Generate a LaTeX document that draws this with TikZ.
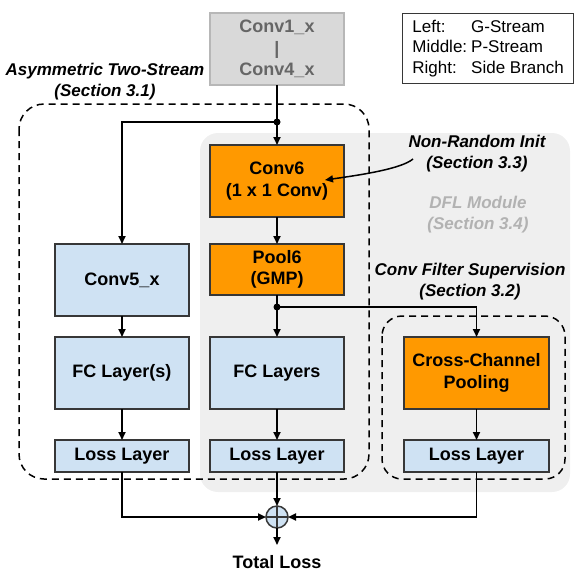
\documentclass[tikz,border=0pt]{standalone}
\usepackage{fontspec}
\setmainfont{Liberation Sans}
\usepackage{xcolor}
\usepackage{tikz}
\usetikzlibrary{arrows.meta, positioning, calc, backgrounds}
\definecolor{cOrange}{RGB}{255,153,0}
\definecolor{cBlue}{RGB}{207,226,243}
\definecolor{cEdge}{RGB}{55,55,55}
\definecolor{cStem}{RGB}{217,217,217}
\definecolor{cStemEdge}{RGB}{183,183,183}
\definecolor{cStemTxt}{RGB}{102,102,102}
\definecolor{cPanel}{RGB}{239,239,239}
\definecolor{cFaint}{RGB}{178,178,178}
\newcommand{\blkfont}{\fontsize{18}{21.6}\selectfont\bfseries}
\newcommand{\notefont}{\fontsize{17}{21}\selectfont\bfseries\itshape}
\newcommand{\keyfont}{\fontsize{17}{20.5}\selectfont}
\tikzset{
	blk/.style     ={rectangle, draw=cEdge, line width=1.2pt, outer sep=0pt, fill=cBlue, minimum width=134pt, minimum height=72pt, align=center, font=\blkfont},
	orgblk/.style  ={blk, fill=cOrange},
	stemblk/.style ={blk, fill=cStem, draw=cStemEdge, line width=1.5pt, text=cStemTxt},
	lossblk/.style ={blk, minimum height=32pt},
	note/.style    ={align=center, font=\notefont},
	key/.style     ={rectangle, draw=cEdge, line width=1.2pt, anchor=north west, minimum width=171pt, minimum height=70pt, inner xsep=3pt, font=\keyfont},
	sumj/.style    ={circle, draw=cEdge, line width=1.5pt, outer sep=0pt, fill=cBlue, minimum size=22pt, inner sep=0pt},
	sig/.style     ={-{Triangle[length=8pt, width=7pt]}, line width=1.8pt},
	region/.style  ={dash pattern=on 7pt off 5pt, line width=1.5pt, rounded corners=25pt},
}
\begin{document}
\begin{tikzpicture}[x=1pt, y=-1pt, node distance=20pt]
	\useasboundingbox (0,0) rectangle (580,574);
	% middle stream
	\node[stemblk] (c14) at (277,49) {Conv1\_x\\|\\Conv4\_x};
	\node[orgblk, below=60pt of c14] (c6) {Conv6\\(1 x 1 Conv)};
	\node[orgblk, below=27pt of c6, minimum height=51pt] (p6) {Pool6\\(GMP)};
	\node[blk, below=42pt of p6] (fcm) {FC Layers};
	\node[lossblk, below=31pt of fcm] (lsm) {Loss Layer};
	% left stream
	\node[blk, left=21pt of fcm] (fcl) {FC Layer(s)};
	\node[blk, above=21pt of fcl] (c5) {Conv5\_x};
	\node[lossblk, left=21pt of lsm] (lsl) {Loss Layer};
	% side branch
	\node[orgblk, right=60pt of fcm, minimum width=145pt] (ccp) {Cross-Channel\\Pooling};
	\node[lossblk, below=31pt of ccp, minimum width=145pt] (lsr) {Loss Layer};
	\node[sumj, below=34pt of lsm] (sum) {};
	\node[below=27pt of sum, inner sep=0pt, font=\blkfont] (tot) {Total Loss};
	% labels
	\node[note] (asym) at (105,81.5) {Asymmetric Two-Stream\\(Section 3.1)};
	\node[note] (nri) at (477,154) {Non-Random Init\\(Section 3.3)};
	\node[note, text=cFaint] (dfl) at (478,215) {DFL Module\\(Section 3.4)};
	\node[note] (cfs) at (470,282) {Conv Filter Supervision\\(Section 3.2)};
	\node[key] (legend) at (402,13) {\begin{tabular}{@{}l@{\hspace{4pt}}l@{}}Left: & G-Stream\\ Middle: & P-Stream\\ Right: & Side Branch\end{tabular}};
	% connectors
	\path (c14.south) ++(0,37) coordinate (j1);
	\path (p6.south) ++(0,12) coordinate (j2);
	\draw[sig] (c14) -- (c6);
	\draw[sig] (j1) -| (c5.north);
	\draw[sig] (c6) -- (p6);
	\draw[sig] (p6) -- (fcm);
	\draw[sig] (j2) -| (ccp.north);
	\draw[sig] (c5) -- (fcl);
	\draw[sig] (fcl) -- (lsl);
	\draw[sig] (fcm) -- (lsm);
	\draw[sig] (ccp) -- (lsr);
	\draw[sig] (lsm) -- (sum);
	\draw[sig] (lsl.south) |- (sum.west);
	\draw[sig] (lsr.south) |- (sum.east);
	\draw[sig] (sum) -- ([yshift=10pt]tot.north);
	\draw[line width=1.2pt, cEdge] (sum.north) -- (sum.south) (sum.west) -- (sum.east);
	\fill (j1) circle (3.5pt); \fill (j2) circle (3.5pt);
	\draw[sig, line width=1.5pt] ($(nri.west)+(8,5)$) .. controls +(-12,10) and +(35,-5) .. ($(c6.east)+(-19,-1)$);
	% panels
	\begin{scope}[on background layer]
		\fill[cPanel, rounded corners=18pt] (200,133) rectangle (570,492);
		\draw[region] (19,104) rectangle (369,479);
		\draw[region, rounded corners=20pt] (382,316) rectangle (565,479);
	\end{scope}
\end{tikzpicture}
\end{document}
